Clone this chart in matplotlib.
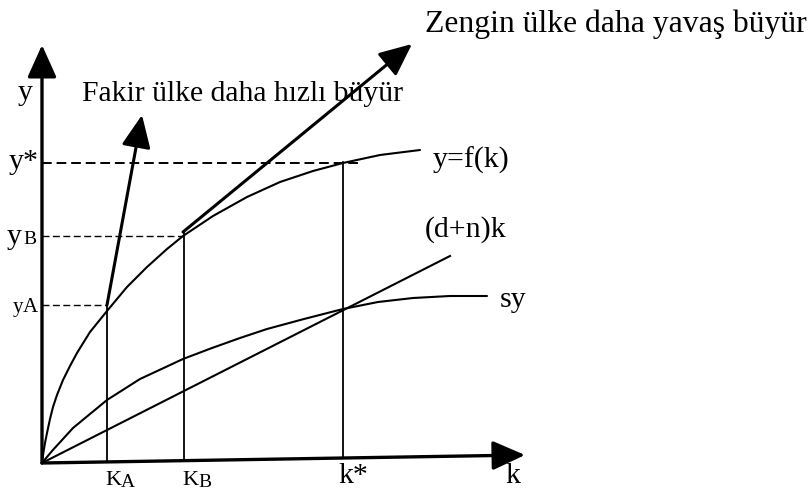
import matplotlib
matplotlib.use("Agg")
import matplotlib.pyplot as plt

plt.rcParams['font.family'] = ['Liberation Serif', 'DejaVu Serif']

# ---- data (diagram units) ----
f_k = [0, 1, 3, 5, 8, 11, 15, 21, 28, 35, 48, 65, 85, 105, 125, 141, 171, 205, 238, 271, 301, 338, 378]
f_y = [0, 8, 20, 30, 44, 56, 68, 83, 97, 110, 131, 152, 176, 196, 214, 227, 247, 266, 281, 292, 300, 308, 313]

sy_k = [0, 10, 31, 65, 98, 141, 170, 198, 225, 262, 301, 336, 371, 408, 445]
sy_y = [0, 12, 35, 63, 84, 104, 115, 125, 134, 144, 154, 161, 165, 167, 167]

dn_k = [0, 408]
dn_y = [0, 207]

kA, kB, kstar = 65, 142, 301
yA, yB, ystar = 158, 227, 300
ystar_dash_end = 316

xaxis_k = [0, 483]
xaxis_y = [0, 8]
yaxis_top = 418

fakir_tip = (100, 348)
zengin_start = (141, 231)
zengin_tip = (370, 419)

# ---- figure ----
fig = plt.figure(figsize=(8.11, 4.88), dpi=100)
ax = fig.add_axes([0, 0, 1, 1])
ax.set_xlim(-42, 769)
ax.set_ylim(-25, 463)
ax.axis('off')

black = 'black'
arrow_style = '-|>,head_length=1.0,head_width=0.45'
# axes with arrows
ax.annotate('', xy=(xaxis_k[1], xaxis_y[1]), xytext=(xaxis_k[0], xaxis_y[0]),
            arrowprops=dict(arrowstyle=arrow_style, lw=2.4,
                            color=black, mutation_scale=20, shrinkA=0, shrinkB=0))
ax.annotate('', xy=(0, yaxis_top), xytext=(0, 0),
            arrowprops=dict(arrowstyle=arrow_style, lw=2.4,
                            color=black, mutation_scale=20, shrinkA=0, shrinkB=0))

# curves
ax.plot(f_k, f_y, color=black, lw=1.5, solid_joinstyle='round', solid_capstyle='round')
ax.plot(sy_k, sy_y, color=black, lw=1.5, solid_joinstyle='round', solid_capstyle='round')
ax.plot(dn_k, dn_y, color=black, lw=1.5)

# vertical lines
ax.plot([kA, kA], [1, yA], color=black, lw=1.3)
ax.plot([kB, kB], [3, zengin_start[1]], color=black, lw=1.3)
ax.plot([kstar, kstar], [5, ystar + 1], color=black, lw=1.3)

# dashed horizontals
ax.plot([0, ystar_dash_end], [ystar, ystar], color=black, lw=1.4, dashes=(5, 2.5))
ax.plot([0, kB], [yB, yB], color=black, lw=1.0, dashes=(5, 2.5))
ax.plot([0, kA], [yA, yA], color=black, lw=1.0, dashes=(5, 2.5))

# growth arrows
ax.annotate('', xy=fakir_tip, xytext=(kA, yA),
            arrowprops=dict(arrowstyle=arrow_style, lw=2.2,
                            color=black, mutation_scale=20, shrinkA=0, shrinkB=0))
ax.annotate('', xy=zengin_tip, xytext=zengin_start,
            arrowprops=dict(arrowstyle=arrow_style, lw=2.2,
                            color=black, mutation_scale=20, shrinkA=0, shrinkB=0))

# texts
fs = 21.5
ax.text(40, 362, 'Fakir ülke daha hızlı büyür', fontsize=21.3, ha='left', va='baseline')
ax.text(383, 431, 'Zengin ülke daha yavaş büyür', fontsize=22.8, ha='left', va='baseline')
ax.text(-17, 370, 'y', fontsize=fs, ha='center', va='center')
ax.text(391, 303, 'y=f(k)', fontsize=fs, ha='left', va='center')
ax.text(383, 233, '(d+n)k', fontsize=fs, ha='left', va='center')
ax.text(458, 163, 'sy', fontsize=fs, ha='left', va='center')

ax.text(-3, ystar - 6, 'y*', fontsize=fs, ha='right', va='baseline')
ax.text(-20, yB - 8, 'y', fontsize=fs, ha='right', va='baseline')
ax.text(-19, yB - 8, 'B', fontsize=14, ha='left', va='baseline')
ax.text(-19, yA - 7, 'y', fontsize=15, ha='right', va='baseline')
ax.text(-19, yA - 7, 'A', fontsize=15, ha='left', va='baseline')

# bottom labels
ax.text(kA - 2, -22, 'K', fontsize=16, ha='left', va='baseline')
ax.text(kA + 14, -24, 'A', fontsize=14, ha='left', va='baseline')
ax.text(kB - 2, -22, 'K', fontsize=16, ha='left', va='baseline')
ax.text(kB + 14, -24, 'B', fontsize=14, ha='left', va='baseline')
ax.text(kstar - 5, -20, 'k*', fontsize=fs, ha='left', va='baseline')
ax.text(463, -20, 'k', fontsize=fs, ha='left', va='baseline')

fig.savefig('out.png', dpi=100)
